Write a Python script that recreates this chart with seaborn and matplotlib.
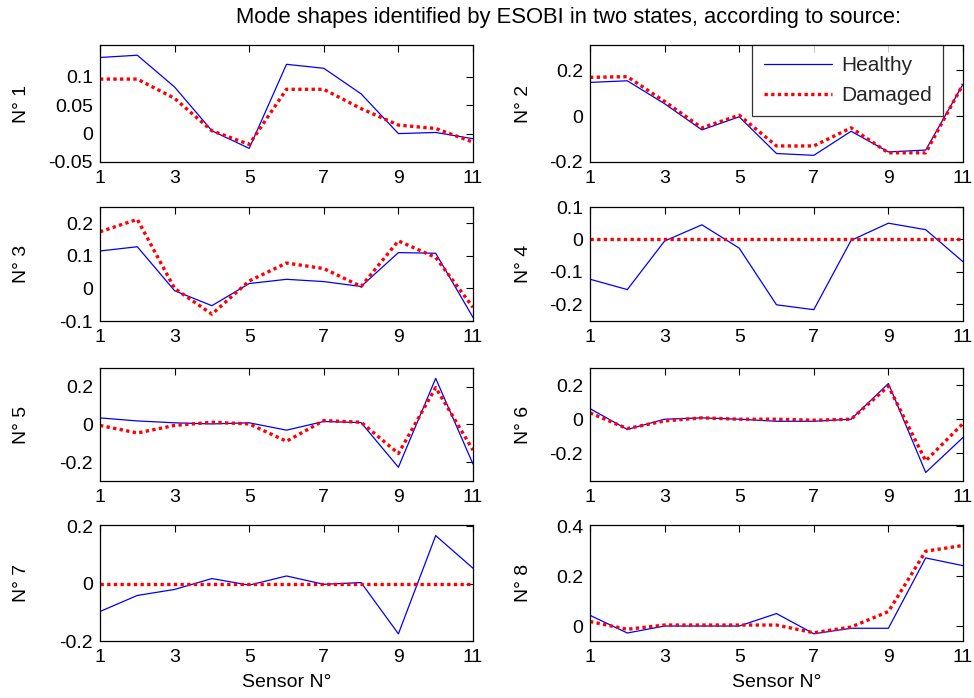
import numpy as np
import pandas as pd
import matplotlib
matplotlib.use("Agg")
import matplotlib.pyplot as plt
from matplotlib.ticker import FuncFormatter
import seaborn as sns

# Sensor positions along the structure
sensors = list(range(1, 12))

# Mode shape components, healthy state (ESOBI identification)
healthy_1 = [0.134, 0.138, 0.082, 0.005, -0.026, 0.122, 0.115, 0.070, 0.000, 0.002, -0.009]
healthy_2 = [0.147, 0.154, 0.054, -0.060, -0.003, -0.163, -0.171, -0.066, -0.156, -0.148, 0.139]
healthy_3 = [0.115, 0.128, -0.007, -0.053, 0.015, 0.028, 0.021, 0.006, 0.110, 0.108, -0.089]
healthy_4 = [-0.123, -0.155, -0.005, 0.045, -0.027, -0.202, -0.217, -0.003, 0.050, 0.030, -0.069]
healthy_5 = [0.035, 0.019, 0.009, 0.003, 0.009, -0.030, 0.016, 0.010, -0.227, 0.245, -0.210]
healthy_6 = [0.062, -0.060, 0.000, 0.008, 0.000, -0.012, -0.012, 0.000, 0.209, -0.312, -0.107]
healthy_7 = [-0.097, -0.041, -0.020, 0.018, -0.005, 0.027, -0.002, 0.004, -0.175, 0.168, 0.054]
healthy_8 = [0.043, -0.028, 0.000, 0.000, 0.000, 0.050, -0.031, -0.009, -0.009, 0.273, 0.242]

# Mode shape components, damaged state
damaged_1 = [0.096, 0.096, 0.062, 0.005, -0.019, 0.078, 0.078, 0.044, 0.015, 0.009, -0.015]
damaged_2 = [0.169, 0.172, 0.064, -0.051, 0.004, -0.130, -0.130, -0.051, -0.160, -0.160, 0.139]
damaged_3 = [0.174, 0.212, 0.000, -0.079, 0.023, 0.078, 0.061, 0.006, 0.146, 0.095, -0.058]
damaged_4 = [0.0] * 11
damaged_5 = [-0.005, -0.045, -0.005, 0.012, 0.003, -0.089, 0.021, 0.012, -0.154, 0.196, -0.136]
damaged_6 = [0.037, -0.055, -0.010, 0.008, 0.000, 0.000, -0.006, 0.000, 0.193, -0.244, -0.025]
damaged_7 = [0.0] * 11
damaged_8 = [0.018, -0.013, 0.004, 0.004, 0.004, 0.004, -0.027, -0.004, 0.058, 0.300, 0.323]

healthy = [healthy_1, healthy_2, healthy_3, healthy_4, healthy_5, healthy_6, healthy_7, healthy_8]
damaged = [damaged_1, damaged_2, damaged_3, damaged_4, damaged_5, damaged_6, damaged_7, damaged_8]

mode_labels = ["N° 1", "N° 2", "N° 3", "N° 4", "N° 5", "N° 6", "N° 7", "N° 8"]
x_ticks = [1, 3, 5, 7, 9, 11]
y_ticks = [
    [-0.05, 0, 0.05, 0.1],
    [-0.2, 0, 0.2],
    [-0.1, 0, 0.1, 0.2],
    [-0.2, -0.1, 0, 0.1],
    [-0.2, 0, 0.2],
    [-0.2, 0, 0.2],
    [-0.2, 0, 0.2],
    [0, 0.2, 0.4],
]
y_limits = [
    (-0.05, 0.156),
    (-0.2, 0.31),
    (-0.1, 0.25),
    (-0.252, 0.1),
    (-0.3, 0.3),
    (-0.362, 0.3),
    (-0.2, 0.205),
    (-0.06, 0.405),
]

sns.set_theme(style="white")
plt.rcParams["font.family"] = ["Liberation Sans", "DejaVu Sans"]
FS = 14

W, H = 974, 698
fig = plt.figure(figsize=(W / 100, H / 100), dpi=100)
fig.patch.set_facecolor("white")

col_left = [100, 590]
col_width = 373
row_top = [45, 207, 368, 525]
row_bottom = [162, 321, 481, 641]


def fmt(v, pos):
    v = round(v, 4)
    if v == 0:
        return "0"
    return f"{v:g}"


axes = []
for i in range(8):
    r, c = divmod(i, 2)
    x0 = col_left[c] / W
    y0 = 1 - row_bottom[r] / H
    h = (row_bottom[r] - row_top[r]) / H
    ax = fig.add_axes([x0, y0, col_width / W, h])
    axes.append(ax)

    df = pd.DataFrame({"sensor": sensors, "healthy": healthy[i], "damaged": damaged[i]})
    sns.lineplot(data=df, x="sensor", y="healthy", ax=ax, color="#0000ff",
                 linewidth=0.9, label="Healthy", legend=False)
    sns.lineplot(data=df, x="sensor", y="damaged", ax=ax, color="#ff0000",
                 linewidth=2.4, linestyle=(0, (1, 1)), label="Damaged", legend=False)

    ax.set_xlim(1, 11)
    ax.set_ylim(*y_limits[i])
    ax.set_xticks(x_ticks)
    ax.set_yticks(y_ticks[i])
    ax.yaxis.set_major_formatter(FuncFormatter(fmt))
    ax.tick_params(direction="in", top=True, right=True, length=5, width=0.8,
                   labelsize=FS, colors="black", pad=5)
    ax.tick_params(axis="x", pad=6)
    for s in ax.spines.values():
        s.set_color("black")
        s.set_linewidth(0.9)
    ax.set_facecolor("white")
    ax.grid(False)

    ax.set_ylabel(mode_labels[i], fontsize=FS, color="black")
    lab_x = (30 - 100) / col_width if c == 0 else (532 - 590) / col_width
    ax.yaxis.set_label_coords(lab_x, 0.5)
    if r == 3:
        ax.set_xlabel("Sensor N°", fontsize=FS, color="black")
        ax.xaxis.set_label_coords(0.5, -(674 - 641) / 116)
    else:
        ax.set_xlabel("")

# Legend in the second panel
leg = axes[1].legend(loc="upper right", bbox_to_anchor=((943 - 590) / col_width, 1.0),
                     borderaxespad=0, fontsize=15, frameon=True, fancybox=False,
                     handlelength=3.3, handletextpad=0.4, borderpad=0.55,
                     labelspacing=0.5)
leg.get_frame().set_edgecolor("black")
leg.get_frame().set_linewidth(0.9)

fig.text(569 / W, 1 - 18 / H,
         "Mode shapes identified by ESOBI in two states, according to source:",
         ha="center", va="center", fontsize=15.8, color="black")

fig.savefig("out.png", dpi=100, facecolor="white")
